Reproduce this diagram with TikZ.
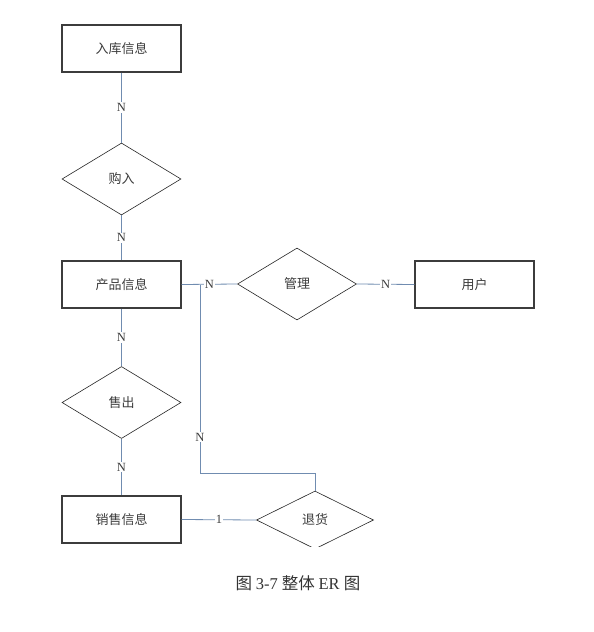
\documentclass[tikz,border=0pt]{standalone}
\usepackage{fontspec}
\setmainfont{Liberation Serif}
\newfontfamily\cjk{Noto Sans CJK SC}
\usetikzlibrary{shapes.geometric}
\definecolor{conncol}{RGB}{112,140,176}
\definecolor{boxcol}{RGB}{60,60,60}
\definecolor{txtcol}{RGB}{60,60,60}
\tikzset{
  ent/.style={draw=boxcol, line width=1.1pt, minimum width=119pt, minimum height=47pt,
    inner sep=0pt, font=\cjk\fontsize{13}{15}\selectfont, text=txtcol},
  rel/.style={draw=black!85, line width=0.6pt, diamond, minimum width=119pt, minimum height=72pt,
    inner sep=0pt, font=\cjk\fontsize{13}{15}\selectfont, text=txtcol},
  conn/.style={draw=conncol, line width=0.8pt},
  lab/.style={fill=white, inner sep=1.2pt, font=\fontsize{12.5}{14}\selectfont, text=txtcol}
}
\begin{document}
\begin{tikzpicture}[x=1pt,y=-1pt]
\useasboundingbox[fill=white] (0,0) rectangle (594,632);
\node[ent] (rk) at (121.5,48.5) {入库信息};
\node[rel] (gr) at (121.5,179) {购入};
\node[ent] (cp) at (121.5,284.5) {产品信息};
\node[rel] (gl) at (297,284) {管理};
\node[ent] (yh) at (474.5,284.5) {用户};
\node[rel] (sc) at (121.5,402.5) {售出};
\node[ent] (xs) at (121.5,519.5) {销售信息};
\begin{scope}
  \clip (0,0) rectangle (594,546);
  \node[rel, minimum width=117pt, minimum height=58pt] (th) at (315,520) {退货};
\end{scope}
\coordinate (br) at (200,284.5);
\coordinate (bd) at (200,473);
\node[font=\cjk\fontsize{16.5}{18}\selectfont, text=black!80] (cap) at (298,583)
  {图\ \fontspec{Liberation Serif}3-7\ \cjk 整体\ \fontspec{Liberation Serif}ER\ \cjk 图};
\draw[conn] (rk.south) -- node[lab]{N} (gr.north);
\draw[conn] (gr.south) -- node[lab]{N} (cp.north);
\draw[conn] (cp.south) -- node[lab]{N} (sc.north);
\draw[conn] (sc.south) -- node[lab]{N} (xs.north);
\draw[conn] (cp.east) -- node[lab]{N} (gl.west);
\draw[conn] (gl.east) -- node[lab]{N} (yh.west);
\draw[conn] (xs.east) -- node[lab]{1} (th.west);
\draw[conn] (br) -- node[lab, pos=0.81]{N} (bd) -| (th.north);
\end{tikzpicture}
\end{document}
